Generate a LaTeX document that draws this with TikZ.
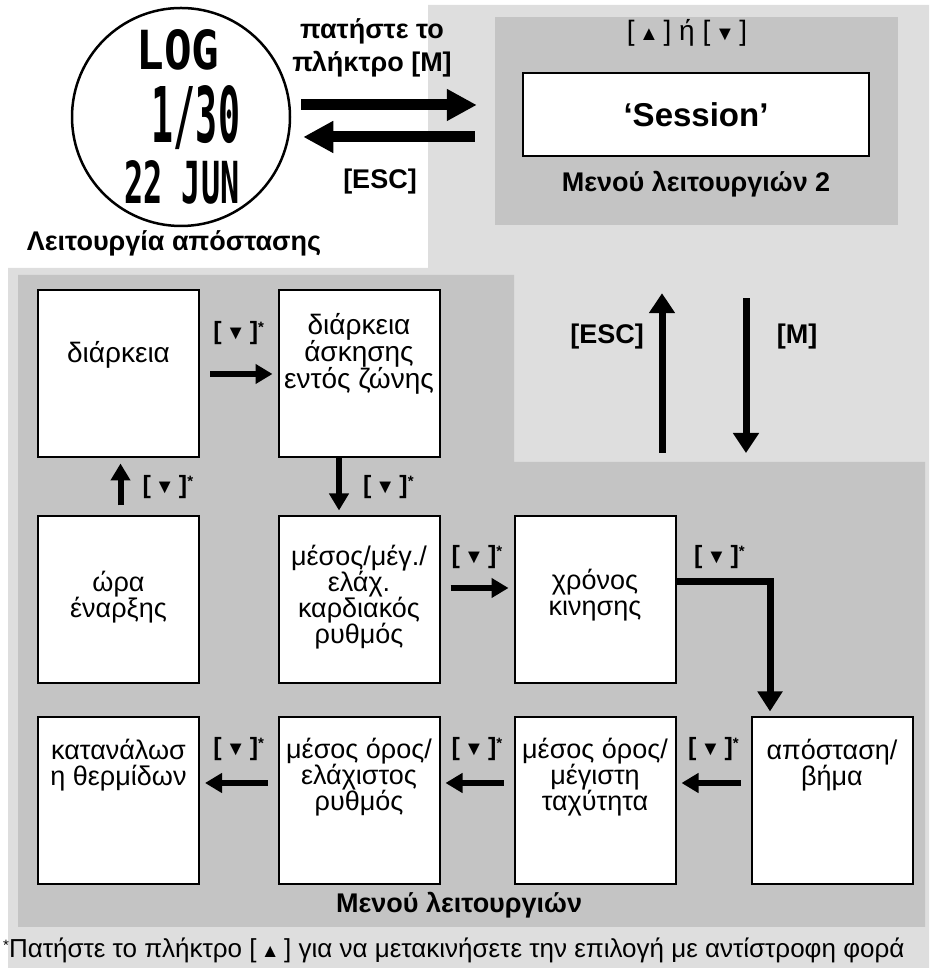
\documentclass[tikz,border=0pt]{standalone}
\usepackage{fontspec}
\usepackage{graphicx}
\setmainfont{Liberation Sans}
\newfontfamily\lcdfont{DejaVu Sans Mono}
\usetikzlibrary{positioning,arrows.meta}

\definecolor{bglight}{gray}{0.87}
\definecolor{bgdark}{gray}{0.77}

\newcommand{\keydn}{[\,{\fontsize{20}{20}\selectfont ▼}\,]\raisebox{7pt}{\fontsize{15}{15}\selectfont *}}
\newcommand{\lcd}[3]{\resizebox{#1}{#2}{\lcdfont\bfseries #3}}

\begin{document}
\begin{tikzpicture}[
    x=1pt, y=1pt,
    box/.style={draw, line width=2pt, fill=white, minimum width=161pt, minimum height=167pt, inner sep=0pt},
    txt/.style={align=center, font=\fontsize{28}{27}\selectfont, inner sep=0pt},
    ntxt/.style={align=center, font=\fontsize{27}{26}\selectfont, inner sep=0pt},
    key/.style={font=\bfseries\fontsize{25}{25}\selectfont, inner sep=1pt},
    lbl/.style={font=\bfseries\fontsize{27}{33}\selectfont, align=center},
    arrow/.style={-{Triangle[length=17pt, width=19pt]}, line width=6pt, shorten <=10pt, shorten >=5pt},
    bigarrow/.style={-{Triangle[length=30pt, width=30pt]}, line width=11pt},
    varrow/.style={-{Triangle[length=20pt, width=25pt]}, line width=7pt}
]
\useasboundingbox (0,0) rectangle (929,968);

% backgrounds
\fill[bglight] (428,963) -- (929,963) -- (929,0) -- (8,0) -- (8,700) -- (428,700) -- cycle;
\fill[bgdark] (18,693) -- (514,693) -- (514,506) -- (925,506) -- (925,41) -- (18,41) -- cycle;

% watch display
\node[circle, draw, line width=2.5pt, minimum size=218pt, inner sep=0pt] (watch) at (181,851) {};
\node (logtxt) at (178,918) {\lcd{83pt}{40pt}{LOG}};
\node (numtxt) at (196,850) {\lcd{88pt}{57pt}{1/30}};
\node (datetxt) at (182,786) {\lcd{115pt}{43pt}{22 JUN}};
\node[lbl, below=0pt of watch, xshift=-7pt] (distmode) {Λειτουργία απόστασης};

% menu 2
\node[fill=bgdark, minimum width=403pt, minimum height=208pt, inner sep=0pt] (menu2) at (696.5,847) {};
\node[draw, line width=2.5pt, fill=white, minimum width=346pt, minimum height=83pt,
      font=\bfseries\fontsize{33}{33}\selectfont] (sess) at (696,853.5) {‘Session’};
\node[font=\fontsize{28}{28}\selectfont] (updn) at (687,935)
  {[\,{\fontsize{20}{20}\selectfont ▲}\,] ή [\,{\fontsize{20}{20}\selectfont ▼}\,]};
\node[lbl, below=10pt of sess] (menu2lbl) {Μενού λειτουργιών 2};

\draw[bigarrow, shorten <=10pt, shorten >=18pt] ([yshift=12pt]watch.east) -- ([yshift=12pt]watch.east -| menu2.west);
\draw[bigarrow, shorten <=20pt, shorten >=12pt] ([yshift=-20pt]watch.east -| menu2.west) -- ([yshift=-20pt]watch.east);
\node[lbl] (presslbl) at (372,920) {πατήστε το\\πλήκτρο [M]};
\node[lbl] (esclbl) at (380,786) {[ESC]};

% ESC / M between the menus
\coordinate (escfoot) at (662,515);
\coordinate (mfoot) at (746,515);
\draw[varrow, shorten >=68pt] (escfoot) -- (escfoot |- menu2.south);
\draw[varrow, shorten <=73pt] (mfoot |- menu2.south) -- (mfoot);
\node[lbl] (escup) at (607,631) {[ESC]};
\node[lbl] (mdown) at (797,631) {[M]};

% function menu
\node[box] (dur)   at (118.5,594) {};
\node[box] (zone)  at (359,594) {};
\node[box] (start) at (118.5,368) {};
\node[box] (hr)    at (359,368) {};
\node[box] (move)  at (595,368) {};
\node[box] (cal)   at (118.5,167) {};
\node[box] (pace)  at (359,167) {};
\node[box] (speed) at (595,167) {};
\node[box] (dist)  at (832,167) {};

\node[txt]  at ([yshift=19pt]dur.center)   {διάρκεια};
\node[txt]  at ([yshift=20pt]zone.center)  {διάρκεια\\άσκησης\\εντός ζώνης};
\node[ntxt] at ([yshift=3pt]start.center)  {ώρα\\έναρξης};
\node[ntxt] at ([yshift=3pt]hr.center)     {μέσος/μέγ./\\ελάχ.\\καρδιακός\\ρυθμός};
\node[ntxt] at ([yshift=5pt]move.center)   {χρόνος\\κινησης};
\node[ntxt] at ([yshift=36pt]cal.center)   {κατανάλωσ\\η θερμίδων};
\node[ntxt] at ([yshift=24pt]pace.center)  {μέσος όρος/\\ελάχιστος\\ρυθμός};
\node[ntxt] at ([yshift=24pt]speed.center) {μέσος όρος/\\μέγιστη\\ταχύτητα};
\node[ntxt] at ([yshift=36pt]dist.center)  {απόσταση/\\βήμα};

\draw[arrow] (dur) -- (zone) node[key, midway, above=25pt] {\keydn};
\draw[arrow] ([xshift=2pt]start.north) -- ([xshift=2pt]dur.south) node[key, midway, right=18pt] {\keydn};
\draw[arrow, shorten <=0pt] ([xshift=-20pt]zone.south) -- ([xshift=-20pt]hr.north) node[key, midway, right=20pt] {\keydn};
\draw[arrow] ([yshift=12pt]hr.east) -- ([yshift=12pt]move.west) node[key, midway, above=15pt] {\keydn};
\draw[arrow, line width=7pt, shorten <=0pt, -{Triangle[length=20pt, width=24pt]}] ([yshift=18pt]move.east) -| ([xshift=-62pt]dist.north)
  node[key, pos=0.23, above=9pt] {\keydn};
\draw[arrow] ([yshift=18pt]dist.west) -- ([yshift=18pt]speed.east) node[key, midway, above=18pt] {\keydn};
\draw[arrow] ([yshift=18pt]speed.west) -- ([yshift=18pt]pace.east) node[key, midway, above=18pt] {\keydn};
\draw[arrow] ([yshift=18pt]pace.west) -- ([yshift=18pt]cal.east) node[key, midway, above=18pt] {\keydn};

\node[lbl] (menulbl) at (459,63) {Μενού λειτουργιών};

% footnote
\node[anchor=west, font=\fontsize{26}{26}\selectfont, inner sep=0pt] (note) at (3,18)
  {\raisebox{7pt}{\fontsize{15}{15}\selectfont *}Πατήστε το πλήκτρο [\,{\fontsize{19}{19}\selectfont ▲}\,] για να μετακινήσετε την επιλογή με αντίστροφη φορά};
\end{tikzpicture}
\end{document}
